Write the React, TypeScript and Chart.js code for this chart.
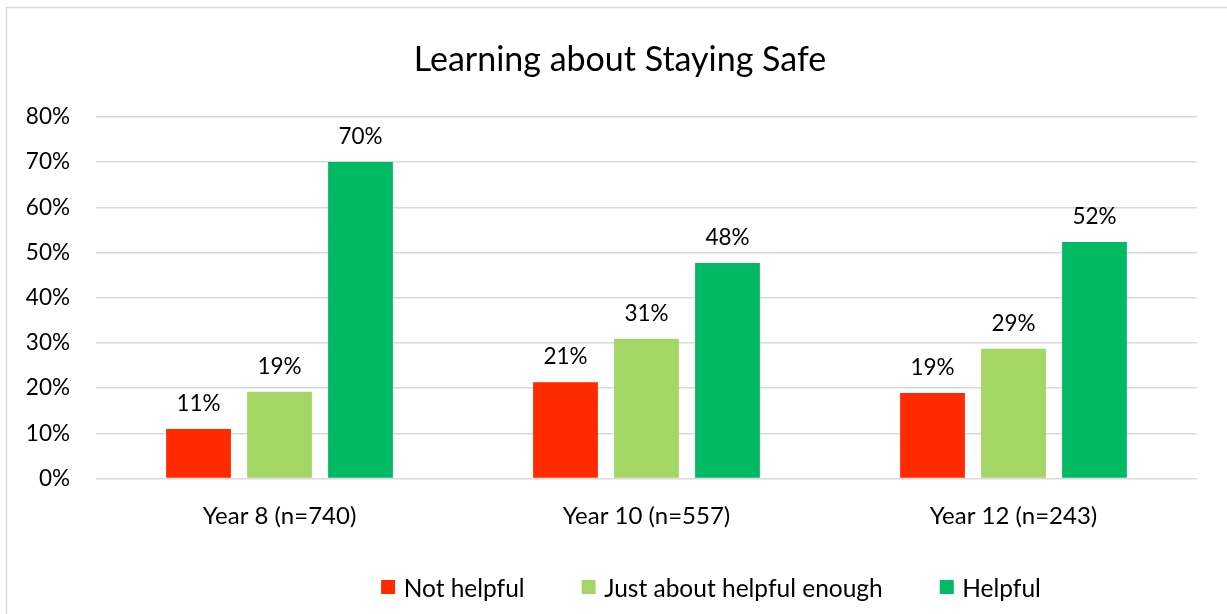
import React, { useEffect, useRef } from "react";
import { Chart, registerables } from "chart.js";

Chart.register(...registerables);

const titleText = "Learning about Staying Safe";
const categories = ["Year 8 (n=740)", "Year 10 (n=557)", "Year 12 (n=243)"];
const seriesNames = ["Not helpful", "Just about helpful enough", "Helpful"];
const notHelpful = [10.95, 21.3, 18.9];
const justAboutHelpful = [19.2, 30.9, 28.7];
const helpful = [70.0, 47.7, 52.3];
const yTickValues = [0, 10, 20, 30, 40, 50, 60, 70, 80];
const seriesColors = ["#FF2A00", "#A3D664", "#00B962"];

const FONT = "Lato, 'Open Sans', sans-serif";

const decorPlugin = {
  id: "decor",
  beforeDraw(chart: any) {
    const ctx = chart.ctx;
    ctx.save();
    ctx.fillStyle = "#ffffff";
    ctx.fillRect(0, 0, chart.width, chart.height);
    ctx.strokeStyle = "#D9D9D9";
    ctx.lineWidth = 1.5;
    ctx.strokeRect(6.5, 7.5, chart.width + 40, chart.height + 40);
    ctx.restore();
  },
  afterDatasetsDraw(chart: any) {
    const ctx = chart.ctx;
    ctx.save();
    ctx.font = `22.5px ${FONT}`;
    ctx.fillStyle = "#000000";
    ctx.textAlign = "center";
    ctx.textBaseline = "alphabetic";
    chart.data.datasets.forEach((ds: any, di: number) => {
      const meta = chart.getDatasetMeta(di);
      meta.data.forEach((bar: any, i: number) => {
        const v = ds.data[i];
        ctx.fillText(Math.round(v) + "%", bar.x, bar.y - 18);
      });
    });
    ctx.restore();
  },
  afterDraw(chart: any) {
    const ctx = chart.ctx;
    ctx.save();
    // title
    ctx.font = `34px ${FONT}`;
    ctx.fillStyle = "#000000";
    ctx.textAlign = "center";
    ctx.textBaseline = "alphabetic";
    ctx.fillText(titleText, 620, 71);
    // legend
    ctx.font = `24.5px ${FONT}`;
    const boxW = 14;
    const boxH = 14;
    const gapBoxText = 8.5;
    const gapItems = 57;
    const widths = seriesNames.map((n) => ctx.measureText(n).width);
    const total =
      widths.reduce((a, b) => a + b, 0) +
      seriesNames.length * (boxW + gapBoxText) +
      (seriesNames.length - 1) * gapItems;
    let x = 711 - total / 2;
    const baseY = 596.5;
    ctx.textAlign = "left";
    seriesNames.forEach((n, i) => {
      ctx.fillStyle = seriesColors[i];
      ctx.fillRect(x, 580, boxW, boxH);
      ctx.fillStyle = "#000000";
      ctx.fillText(n, x + boxW + gapBoxText, baseY);
      x += boxW + gapBoxText + widths[i] + gapItems;
    });
    ctx.restore();
  },
};

export default function App() {
  const canvasRef = useRef<HTMLCanvasElement | null>(null);

  useEffect(() => {
    document.body.style.margin = "0";
    const canvas = canvasRef.current;
    if (!canvas) return;
    const seriesData = [notHelpful, justAboutHelpful, helpful];
    const chart = new Chart(canvas, {
      type: "bar",
      data: {
        labels: categories,
        datasets: seriesNames.map((name, i) => ({
          label: name,
          data: seriesData[i],
          backgroundColor: seriesColors[i],
          borderWidth: 0,
          categoryPercentage: 0.662,
          barPercentage: 0.8,
        })),
      },
      options: {
        responsive: false,
        animation: false,
        layout: { padding: { top: 116.9, right: 30, bottom: 0, left: 0 } },
        plugins: {
          legend: { display: false },
          title: { display: false },
          tooltip: { enabled: false },
        },
        scales: {
          x: {
            grid: { display: false, drawTicks: false },
            border: { display: false },
            ticks: {
              color: "#000000",
              font: { family: FONT, size: 24 },
              padding: 23,
              maxRotation: 0,
              autoSkip: false,
            },
            afterFit: (scale: any) => {
              scale.height = 135.5;
            },
          },
          y: {
            min: 0,
            max: 80,
            grid: { color: "#D9D9D9", lineWidth: 1.5, drawTicks: false },
            border: { display: false },
            ticks: {
              color: "#000000",
              font: { family: FONT, size: 22.5 },
              padding: 26,
              callback: (v: any) => v + "%",
            },
            afterBuildTicks: (scale: any) => {
              scale.ticks = yTickValues.map((v) => ({ value: v }));
            },
            afterFit: (scale: any) => {
              scale.width = 96;
            },
          },
        },
      },
      plugins: [decorPlugin],
    });
    return () => chart.destroy();
  }, []);

  return (
    <div style={{ position: "fixed", left: 0, top: 0, width: 1227, height: 614 }}>
      <canvas ref={canvasRef} width={1227} height={614} style={{ display: "block" }} />
    </div>
  );
}
